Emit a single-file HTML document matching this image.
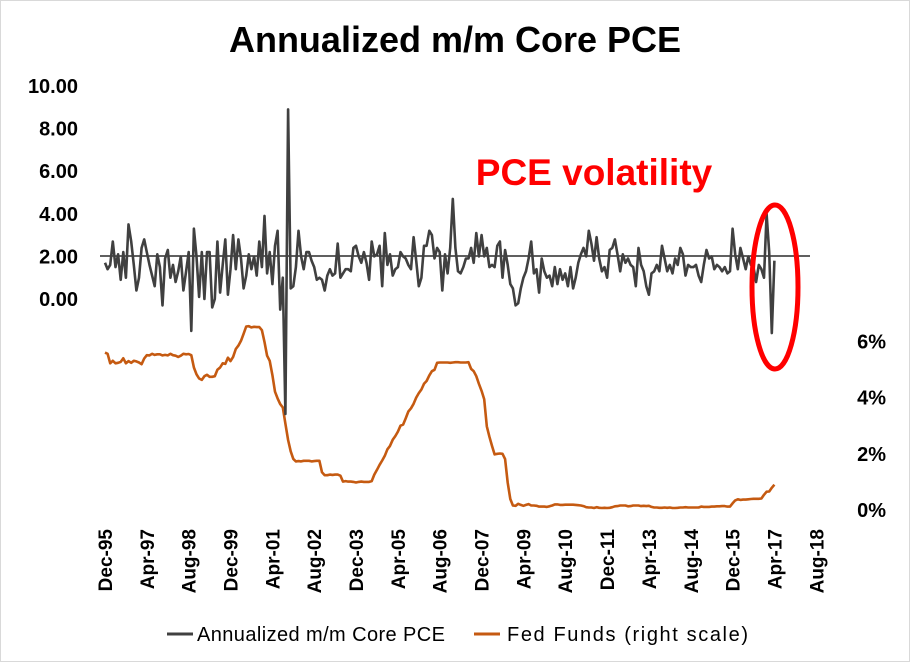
<!DOCTYPE html>
<html><head><meta charset="utf-8"><style>
html,body{margin:0;padding:0;background:#fff;}
svg{display:block;font-family:"Liberation Sans",Arial,sans-serif;}
</style></head><body>
<svg id="chart" width="910" height="662" viewBox="0 0 910 662">
<rect x="0.5" y="0.5" width="909" height="661" fill="#fff" stroke="#d9d9d9"/>
<text x="455" y="52" text-anchor="middle" font-size="36" font-weight="bold" fill="#000">Annualized m/m Core PCE</text>
<g id="leftAxis"></g>
<g id="rightAxis"></g>
<g id="xAxis"></g>
<line x1="100" y1="256" x2="810" y2="256" stroke="#000" stroke-width="1.3"/>
<path id="ffLine" fill="none" stroke="#c55a11" stroke-width="2.6" stroke-linejoin="round"/>
<path id="pceLine" fill="none" stroke="#404040" stroke-width="2.6" stroke-linejoin="round"/>
<text x="594" y="185" text-anchor="middle" font-size="37" font-weight="bold" fill="#ff0000">PCE volatility</text>
<ellipse cx="775" cy="287" rx="23" ry="82" fill="none" stroke="#ff0000" stroke-width="5"/>
<g>
<line x1="167" y1="634" x2="193" y2="634" stroke="#404040" stroke-width="3"/>
<text x="197" y="641" font-size="20" textLength="248" fill="#000">Annualized m/m Core PCE</text>
<line x1="474" y1="634" x2="500" y2="634" stroke="#c55a11" stroke-width="3"/>
<text x="507" y="641" font-size="20" textLength="241" fill="#000">Fed Funds (right scale)</text>
</g>
</svg>
<script>
const xTickLabels=["Dec-95","Apr-97","Aug-98","Dec-99","Apr-01","Aug-02","Dec-03","Apr-05","Aug-06","Dec-07","Apr-09","Aug-10","Dec-11","Apr-13","Aug-14","Dec-15","Apr-17","Aug-18"];
const leftTicks=[0,2,4,6,8,10];
const rightTicks=[0,2,4,6];
const pceValues=[1.7,
1.4,1.6,2.7,1.5,2.1,0.9,2.2,1.0,3.5,2.7,1.6,0.4,
1.0,2.4,2.8,2.2,1.6,1.1,0.6,2.1,1.5,-0.3,1.9,2.3,
1.0,1.6,0.8,1.3,2.0,0.4,1.3,2.2,-1.5,3.3,2.0,0.1,
2.2,0.0,2.2,2.2,-0.4,0.0,2.7,0.3,1.6,2.8,0.2,1.4,
3.0,1.4,2.8,1.9,0.5,1.1,2.1,1.4,2.0,1.1,2.7,1.5,
3.9,1.2,2.2,0.7,2.5,3.2,-0.5,1.0,-5.4,8.9,0.5,0.6,
1.5,3.2,2.0,1.4,2.2,2.2,1.8,1.5,0.9,1.0,0.9,0.4,
1.1,1.4,1.1,1.2,2.6,1.0,1.2,1.4,1.4,1.3,2.4,2.5,
2.0,1.7,2.2,1.7,0.9,2.7,2.0,2.1,2.5,0.6,3.1,1.6,
2.1,1.1,1.4,1.5,2.2,2.0,1.9,1.6,1.4,2.9,1.8,0.6,
1.0,2.5,2.5,3.2,3.0,1.9,2.4,2.2,0.4,2.1,1.2,2.4,
4.7,2.4,1.3,1.2,1.5,1.9,1.9,2.4,1.7,3.1,2.0,3.0,
2.0,2.4,1.5,1.6,1.5,2.5,2.7,1.0,2.3,1.6,0.7,0.5,
-0.3,-0.2,0.5,1.0,1.3,1.9,2.7,1.2,1.4,0.3,1.9,1.3,
1.0,1.1,0.6,1.5,0.7,1.4,0.9,1.2,0.6,1.5,0.5,1.0,
1.7,2.1,2.4,2.0,3.2,2.6,1.8,2.9,1.9,1.3,1.5,1.0,
2.3,2.4,2.8,2.1,1.3,2.1,1.7,1.9,1.6,1.5,0.6,2.4,
1.6,1.3,0.6,0.2,1.2,1.3,1.6,1.3,2.5,1.9,1.3,1.6,
1.2,1.9,1.6,2.4,2.1,1.1,1.6,1.5,1.5,1.6,1.1,0.8,
1.6,2.3,1.9,2.0,1.4,1.6,1.5,1.3,1.5,1.2,1.3,3.3,
2.1,1.4,2.4,1.9,1.4,2.0,1.6,1.5,0.8,1.6,1.4,1.0,
4.0,2.2,-1.6,1.8];
const fedFunds=[5.6,
5.56,5.22,5.31,5.22,5.24,5.27,5.40,5.22,5.30,5.24,5.31,5.29,
5.25,5.19,5.39,5.51,5.50,5.56,5.52,5.54,5.54,5.50,5.52,5.50,
5.56,5.51,5.49,5.45,5.49,5.56,5.54,5.55,5.51,5.07,4.83,4.68,
4.63,4.76,4.81,4.74,4.74,4.76,4.99,5.07,5.22,5.20,5.42,5.30,
5.45,5.73,5.85,6.02,6.27,6.53,6.54,6.50,6.52,6.51,6.51,6.40,
5.98,5.49,5.31,4.80,4.21,3.97,3.77,3.65,3.07,2.49,2.09,1.82,
1.73,1.74,1.73,1.75,1.75,1.75,1.73,1.74,1.75,1.75,1.34,1.24,
1.24,1.26,1.25,1.26,1.26,1.22,1.01,1.03,1.01,1.01,1.00,0.98,
1.00,1.01,1.00,1.00,1.00,1.03,1.26,1.43,1.61,1.76,1.93,2.16,
2.28,2.50,2.63,2.79,3.00,3.04,3.26,3.50,3.62,3.78,4.00,4.16,
4.29,4.49,4.59,4.79,4.94,4.99,5.24,5.25,5.25,5.25,5.25,5.24,
5.25,5.26,5.26,5.25,5.25,5.25,5.26,5.02,4.94,4.76,4.49,4.24,
3.94,2.98,2.61,2.28,1.98,2.00,2.01,2.00,1.81,0.97,0.39,0.16,
0.15,0.22,0.18,0.15,0.18,0.21,0.16,0.16,0.15,0.12,0.12,0.12,
0.11,0.13,0.16,0.20,0.20,0.18,0.18,0.19,0.19,0.19,0.19,0.18,
0.17,0.16,0.14,0.10,0.09,0.09,0.07,0.10,0.08,0.07,0.08,0.07,
0.08,0.10,0.13,0.14,0.16,0.16,0.16,0.13,0.14,0.16,0.16,0.16,
0.14,0.15,0.14,0.15,0.11,0.09,0.09,0.08,0.08,0.09,0.08,0.09,
0.07,0.07,0.08,0.09,0.09,0.10,0.09,0.09,0.09,0.09,0.09,0.12,
0.11,0.11,0.11,0.12,0.12,0.13,0.13,0.14,0.14,0.12,0.12,0.24,
0.34,0.38,0.36,0.37,0.37,0.38,0.39,0.40,0.40,0.40,0.41,0.54,
0.65,0.66,0.79,0.90];

const NS="http://www.w3.org/2000/svg";
function xPos(i){return 105+i*2.615;}
function yLeft(v){return 299-v*21.3;}
function yRight(v){return 510-v*28.1;}

const leftG=document.getElementById('leftAxis');
leftTicks.forEach(v=>{
  const t=document.createElementNS(NS,'text');
  t.setAttribute('x',78);t.setAttribute('y',yLeft(v)+7);
  t.setAttribute('text-anchor','end');t.setAttribute('font-size','20');t.setAttribute('font-weight','bold');
  t.textContent=v.toFixed(2);
  
  
  leftG.appendChild(t);
});
const rightG=document.getElementById('rightAxis');
rightTicks.forEach(v=>{
  const t=document.createElementNS(NS,'text');
  t.setAttribute('x',886);t.setAttribute('y',yRight(v)+7);
  t.setAttribute('text-anchor','end');t.setAttribute('font-size','20');t.setAttribute('font-weight','bold');
  t.textContent=v+'%';
  
  
  rightG.appendChild(t);
});
const xG=document.getElementById('xAxis');
xTickLabels.forEach((s,k)=>{
  const x=xPos(k*16)+7;
  const t=document.createElementNS(NS,'text');
  t.setAttribute('transform','translate('+x+',529) rotate(-90)');
  t.setAttribute('text-anchor','end');t.setAttribute('font-size','19');t.setAttribute('font-weight','bold');
  t.textContent=s;
  
  
  xG.appendChild(t);
});
function path(arr,yf){return arr.map((v,i)=>(i?'L':'M')+xPos(i).toFixed(1)+' '+yf(v).toFixed(1)).join(' ');}
document.getElementById('pceLine').setAttribute('d',path(pceValues,yLeft));
document.getElementById('ffLine').setAttribute('d',path(fedFunds,yRight));
</script>
</body></html>
